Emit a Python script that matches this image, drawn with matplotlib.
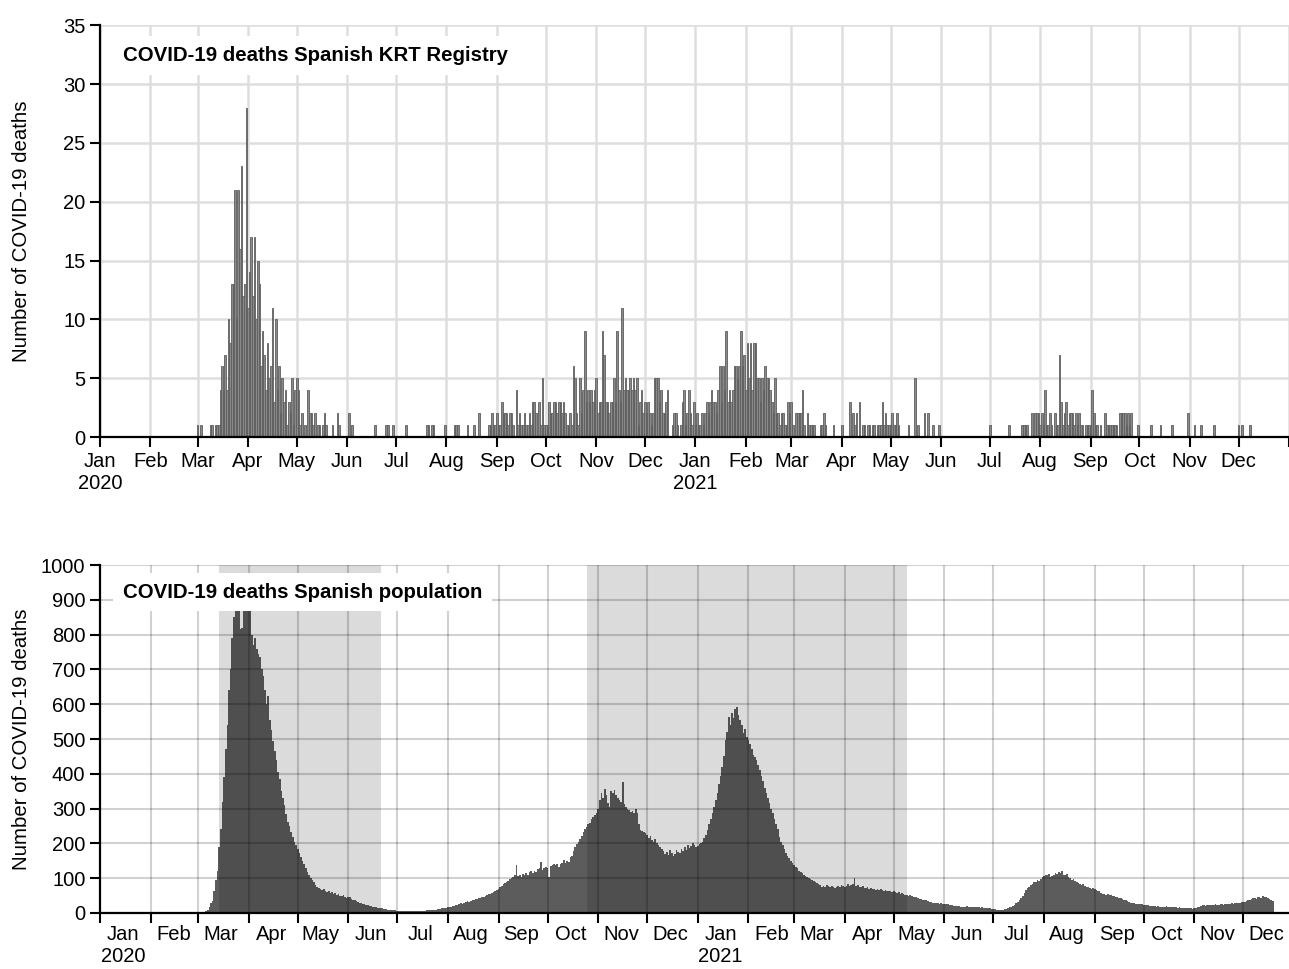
# COVID-19 daily deaths: Spanish KRT registry vs. Spanish population
import numpy as np
import pandas as pd
import matplotlib
matplotlib.use("Agg")
import matplotlib.pyplot as plt
import matplotlib.dates as mdates
from matplotlib.ticker import FuncFormatter

plt.rcParams['font.family'] = ['Liberation Sans', 'DejaVu Sans']

# daily deaths, KRT registry (one list per month, starting on day 1)
krt_2020_03 = [1,0,1,0,0,0,0,0,1,1,0,1,1,1,4,6,4,7,4,10,8,13,13,21,10,21,16,23,12,13,28]
krt_2020_04 = [11,14,17,12,17,10,15,13,6,9,7,4,8,5,6,11,3,10,4,6,2,5,3,4,1,3,2,5,1,4]
krt_2020_05 = [5,4,1,2,0,1,0,4,2,2,1,2,0,1,1,0,1,2,1,0,0,0,1,0,0,2,1,0,0,0,0]
krt_2020_06 = [0,2,0,1,0,0,0,0,0,0,0,0,0,0,0,0,0,1,0,0,0,0,0,0,1,1,0,0,1,0]
krt_2020_07 = [0,0,0,0,0,0,1,0,0,0,0,0,0,0,0,0,0,0,0,1,1,0,1,1,0,0,0,0,0,0,1]
krt_2020_08 = [0,0,0,0,0,1,1,1,0,0,0,0,0,1,0,0,0,1,0,0,2,0,0,0,0,0,1,1,2,1,1]
krt_2020_09 = [2,1,1,3,2,2,2,1,2,2,1,0,4,1,2,1,1,2,1,1,2,1,3,3,2,0,3,1,5,1]
krt_2020_10 = [1,1,3,2,2,3,3,2,3,3,2,3,2,1,1,2,1,6,5,2,1,5,2,4,9,3,4,3,4,3,4]
krt_2020_11 = [5,2,3,3,9,7,3,3,2,3,3,5,3,9,4,3,11,4,5,4,4,5,4,5,4,5,1,3,4,2]
krt_2020_12 = [3,2,3,2,1,2,5,5,5,3,4,2,2,3,4,0,0,1,2,2,1,0,1,3,4,1,2,4,2,1,3]
krt_2021_01 = [1,2,1,1,2,1,2,3,2,3,4,3,3,2,4,6,3,6,4,9,3,4,3,4,6,6,5,6,9,6,7]
krt_2021_02 = [4,8,5,8,4,8,8,5,5,3,5,4,6,5,5,4,3,2,5,2,2,1,2,2,1,1,3,2]
krt_2021_03 = [3,1,0,2,2,2,2,4,1,0,2,1,1,1,1,0,0,0,1,1,2,1,0,0,0,0,1,0,0,0,0]
krt_2021_04 = [1,0,0,0,0,3,0,2,1,2,0,3,0,1,1,0,1,1,0,1,1,0,1,1,1,3,1,2,1,1]
krt_2021_05 = [1,2,1,1,2,1,0,0,0,0,0,1,0,0,0,5,0,1,0,0,0,2,0,2,0,0,1,0,0,0,1]
krt_2021_07 = [1,0,0,0,0,0,0,0,0,0,0,0,1,0,0,0,0,0,0,0,1,1,1,1,0,0,2,0,2,2,2]
krt_2021_08 = [1,2,1,4,1,1,2,1,0,2,1,1,7,3,1,2,3,1,2,2,2,1,2,1,2,1,1,0,1,1,1]
krt_2021_09 = [1,4,2,1,1,0,1,0,0,2,1,1,1,1,1,1,1,0,2,2,2,2,1,2,1,2,0,0,0,1]
krt_2021_10 = [0,0,0,0,0,0,0,1,0,0,0,0,0,1,0,0,0,0,0,0,1,0,0,0,0,0,0,0,0,0,2]
krt_2021_11 = [0,0,0,1,0,0,0,1,0,0,0,0,0,0,0,1,0,0,0,0,0,0,0,0,0,0,0,0,0,0]
krt_2021_12 = [1,0,1,0,0,0,0,1]

# daily deaths, Spanish population
pop_2020_03 = [0,1,1,2,3,5,10,17,28,35,62,95,120,190,240,320,390,470,540,640,700,790,850,905,920,870,815,820,900,935,925]
pop_2020_04 = [910,880,800,770,790,760,745,735,700,680,640,600,625,555,525,495,465,440,405,385,350,330,310,285,262,250,232,218,205,195]
pop_2020_05 = [185,172,160,148,140,128,118,110,100,95,88,80,76,72,68,66,70,62,60,64,58,60,55,57,52,54,50,48,52,46,44]
pop_2020_06 = [47,45,40,38,36,34,32,30,28,27,25,24,22,21,20,18,17,16,15,14,13,13,12,11,10,10,9,9,8,8]
pop_2020_07 = [7,7,6,6,6,5,5,5,5,5,5,5,6,6,6,7,7,7,8,8,8,9,9,10,10,11,12,13,13,14,15]
pop_2020_08 = [16,17,18,19,20,22,24,26,28,27,30,32,34,33,35,37,38,40,39,42,44,45,47,50,52,54,56,58,60,63,66]
pop_2020_09 = [70,74,78,82,86,90,93,97,100,104,108,138,106,110,104,112,109,115,108,118,120,114,122,119,125,128,147,124,130,133]
pop_2020_10 = [128,104,135,138,140,138,142,133,140,143,152,145,150,147,160,165,178,190,198,205,212,220,232,240,248,255,260,270,275,282,288]
pop_2020_11 = [300,325,345,330,355,340,315,306,350,344,353,340,330,325,318,377,312,306,300,295,290,292,286,298,288,255,238,235,232,229]
pop_2020_12 = [224,215,220,210,205,212,200,195,190,185,178,170,175,168,182,172,165,170,180,176,172,185,178,190,182,195,188,192,200,196,190]
pop_2021_01 = [192,198,200,205,215,225,238,255,270,286,305,325,344,370,395,420,450,497,520,564,540,574,560,585,593,570,555,540,516,530,505]
pop_2021_02 = [497,485,470,455,449,440,425,411,395,380,360,344,330,315,300,286,270,255,240,219,205,195,185,171,165,158,150,143]
pop_2021_03 = [138,132,128,122,119,114,110,106,104,100,97,95,92,88,85,82,80,76,78,74,80,77,75,79,76,73,76,78,74,80,77]
pop_2021_04 = [75,78,82,79,80,84,100,78,80,76,74,78,72,71,74,70,72,68,70,67,69,66,68,65,64,66,63,62,64,61]
pop_2021_05 = [62,60,58,60,56,58,55,53,52,50,51,48,47,45,46,43,41,40,38,37,36,34,33,32,30,29,28,28,27,28,26]
pop_2021_06 = [26,25,27,24,24,22,21,20,19,20,18,18,17,18,19,18,17,18,17,16,17,16,15,16,15,14,15,14,13,12]
pop_2021_07 = [12,11,10,10,9,9,10,11,12,14,16,18,20,24,28,33,38,44,50,58,65,72,76,80,84,88,90,95,92,98,102]
pop_2021_08 = [105,110,108,112,104,106,110,115,112,118,114,120,110,108,112,104,100,96,98,92,90,86,84,80,82,78,76,74,72,70,71]
pop_2021_09 = [68,66,64,62,58,56,55,53,54,52,52,50,48,46,45,44,42,40,38,36,34,32,30,28,29,27,26,27,25,26]
pop_2021_10 = [24,23,22,22,21,20,20,19,18,19,18,18,17,18,19,18,17,18,16,17,16,15,16,15,14,15,14,13,14,13,12]
pop_2021_11 = [14,15,17,18,20,22,23,21,22,24,23,22,23,25,24,23,25,26,24,26,27,25,27,28,26,28,30,28,29,31]
pop_2021_12 = [33,32,35,38,36,40,42,44,41,45,47,44,48,46,45,43,40,38,34]

# state of alarm periods (shaded)
alarm_periods = [("2020-03-14", "2020-06-21"), ("2020-10-25", "2021-05-09")]

krt_months = [(2020, 3, krt_2020_03), (2020, 4, krt_2020_04), (2020, 5, krt_2020_05),
              (2020, 6, krt_2020_06), (2020, 7, krt_2020_07), (2020, 8, krt_2020_08),
              (2020, 9, krt_2020_09), (2020, 10, krt_2020_10), (2020, 11, krt_2020_11),
              (2020, 12, krt_2020_12), (2021, 1, krt_2021_01), (2021, 2, krt_2021_02),
              (2021, 3, krt_2021_03), (2021, 4, krt_2021_04), (2021, 5, krt_2021_05),
              (2021, 7, krt_2021_07), (2021, 8, krt_2021_08), (2021, 9, krt_2021_09),
              (2021, 10, krt_2021_10), (2021, 11, krt_2021_11), (2021, 12, krt_2021_12)]
pop_months = [(2020, 3, pop_2020_03), (2020, 4, pop_2020_04), (2020, 5, pop_2020_05),
              (2020, 6, pop_2020_06), (2020, 7, pop_2020_07), (2020, 8, pop_2020_08),
              (2020, 9, pop_2020_09), (2020, 10, pop_2020_10), (2020, 11, pop_2020_11),
              (2020, 12, pop_2020_12), (2021, 1, pop_2021_01), (2021, 2, pop_2021_02),
              (2021, 3, pop_2021_03), (2021, 4, pop_2021_04), (2021, 5, pop_2021_05),
              (2021, 6, pop_2021_06), (2021, 7, pop_2021_07), (2021, 8, pop_2021_08),
              (2021, 9, pop_2021_09), (2021, 10, pop_2021_10), (2021, 11, pop_2021_11),
              (2021, 12, pop_2021_12)]


def to_series(months):
    # join the monthly lists into one dated series
    parts = []
    for y, m, vals in months:
        idx = pd.date_range(f"{y}-{m:02d}-01", periods=len(vals), freq="D")
        parts.append(pd.Series(vals, index=idx))
    return pd.concat(parts)


def month_label(x, pos):
    d = mdates.num2date(x)
    if d.year > 2021:
        return ""
    if d.month == 1:
        return d.strftime("%b") + "\n" + d.strftime("%Y")
    return d.strftime("%b")


def style_axis(ax):
    for s in ["top", "right"]:
        ax.spines[s].set_visible(False)
    ax.spines["left"].set_linewidth(1.6)
    ax.spines["bottom"].set_linewidth(1.6)
    ax.tick_params(axis="both", which="major", direction="out", length=7, width=1.5,
                   labelsize=14.5, colors="black")
    ax.xaxis.set_major_locator(mdates.MonthLocator())


krt = to_series(krt_months)
pop = to_series(pop_months)

fig = plt.figure(figsize=(12.89, 9.69), dpi=100)
ax1 = fig.add_axes([0.0776, 0.549, 0.9224, 0.425])
ax2 = fig.add_axes([0.0776, 0.0578, 0.9224, 0.3591])

# top panel: KRT registry
ax1.bar(krt.index, krt.values, width=1.0, facecolor="#8a8a8a", edgecolor="#5e5e5e",
        linewidth=0.6, zorder=2)
ax1.set_xlim(pd.Timestamp("2020-01-01"), pd.Timestamp("2022-01-01"))
ax1.set_ylim(0, 35)
ax1.set_yticks(np.arange(0, 36, 5))
style_axis(ax1)
ax1.xaxis.set_major_formatter(FuncFormatter(month_label))
ax1.grid(True, color="#dedede", linewidth=1.8)
ax1.set_axisbelow(True)
ax1.set_ylabel("Number of COVID-19 deaths", fontsize=14.7)
ax1.yaxis.set_label_coords(-0.058, 0.5)
ax1.text(0.0193, 0.927, "COVID-19 deaths Spanish KRT Registry", transform=ax1.transAxes,
         fontsize=14.7, fontweight="bold", va="center", ha="left", zorder=5,
         bbox=dict(facecolor="white", edgecolor="none", pad=7))

# bottom panel: Spanish population
ax2.bar(pop.index, pop.values, width=1.05, color="#5c5c5c", linewidth=0, zorder=1)
for start, end in alarm_periods:
    ax2.axvspan(pd.Timestamp(start), pd.Timestamp(end), color="black", alpha=0.14,
                linewidth=0, zorder=1.5)
ax2.set_xlim(pd.Timestamp("2020-01-01"), pd.Timestamp("2021-12-29"))
ax2.set_ylim(0, 1000)
ax2.set_yticks(np.arange(0, 1001, 100))
style_axis(ax2)
ax2.xaxis.set_major_formatter(FuncFormatter(lambda x, pos: ""))
ax2.xaxis.set_minor_locator(mdates.MonthLocator(bymonthday=15))
ax2.xaxis.set_minor_formatter(FuncFormatter(month_label))
ax2.tick_params(axis="x", which="minor", length=0, labelsize=14.5, pad=9)
ax2.grid(True, which="major", color="black", alpha=0.18, linewidth=1.5)
ax2.set_axisbelow(False)
ax2.set_ylabel("Number of COVID-19 deaths", fontsize=14.7)
ax2.yaxis.set_label_coords(-0.058, 0.5)
ax2.text(0.0193, 0.922, "COVID-19 deaths Spanish population", transform=ax2.transAxes,
         fontsize=14.7, fontweight="bold", va="center", ha="left", zorder=5,
         bbox=dict(facecolor="white", edgecolor="none", pad=7))

fig.savefig("out.png", dpi=100)
